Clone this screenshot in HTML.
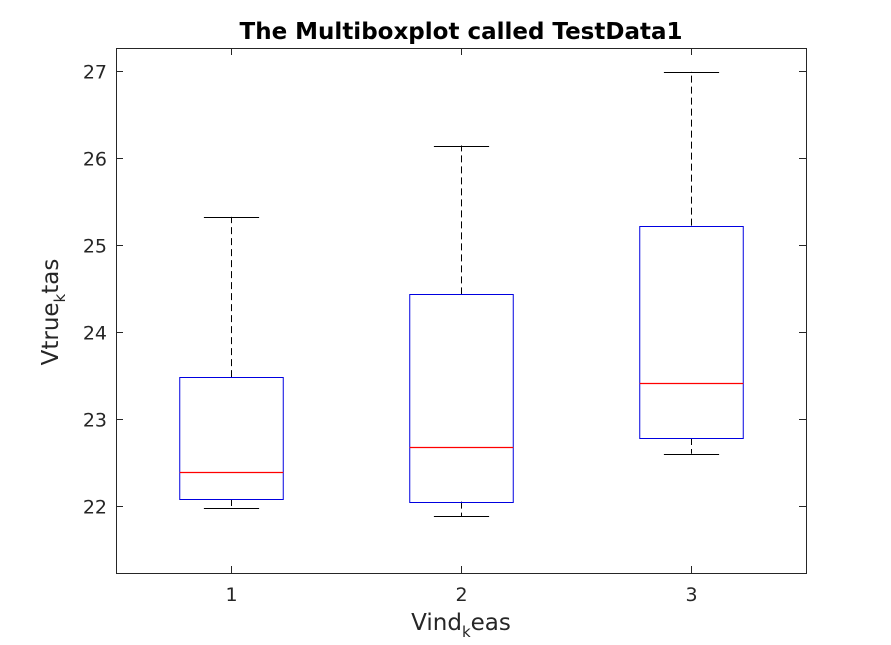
<!DOCTYPE html>
<html><head><meta charset="utf-8"><style>
html,body{margin:0;padding:0;background:#fff;}
svg{display:block;font-family:"DejaVu Sans","Liberation Sans",sans-serif;}
</style></head><body>
<svg id="chart" width="891" height="645">
<text x="461" y="39" text-anchor="middle" font-size="23" font-weight="bold" fill="#000">The Multiboxplot called TestData1</text>
<text x="461" y="630" text-anchor="middle" font-size="23" fill="#262626">Vind<tspan font-size="15" dy="7">k</tspan><tspan dy="-7">eas</tspan></text>
<text transform="translate(58,312) rotate(-90)" text-anchor="middle" font-size="23" fill="#262626">Vtrue<tspan font-size="15" dy="7">k</tspan><tspan dy="-7">tas</tspan></text>
</svg>
<script>
const categories = ["1","2","3"];
const whiskerLow = [21.98, 21.88, 22.60];
const q1 = [22.08, 22.05, 22.78];
const median = [22.39, 22.68, 23.41];
const q3 = [23.48, 24.43, 25.22];
const whiskerHigh = [25.32, 26.14, 26.99];
const yTicks = [22, 23, 24, 25, 26, 27];

const L=116,R=806,T=48,B=573;
const yMin=21.23,yMax=27.26,xMin=0.5,xMax=3.5;
const ys=v=>B-(v-yMin)/(yMax-yMin)*(B-T);
const xs=v=>L+(v-xMin)/(xMax-xMin)*(R-L);
const svg=document.getElementById('chart');
const NS='http://www.w3.org/2000/svg';
function mk(tag,attrs,parent){const e=document.createElementNS(NS,tag);for(const k in attrs)e.setAttribute(k,attrs[k]);(parent||svg).appendChild(e);return e;}

const frame=mk('rect',{x:L+0.5,y:T+0.5,width:R-L,height:B-T,fill:'none',stroke:'#262626','stroke-width':1});



yTicks.forEach(t=>{
  const y=Math.round(ys(t))+0.5;
  mk('line',{x1:L,x2:L+7,y1:y,y2:y,stroke:'#262626'});
  mk('line',{x1:R-7,x2:R,y1:y,y2:y,stroke:'#262626'});
  const tx=mk('text',{x:L-9,y:y+7,'text-anchor':'end','font-size':19,fill:'#262626'});
  tx.textContent=t;
  
  
});
categories.forEach((c,i)=>{
  const x=Math.round(xs(i+1))+0.5;
  mk('line',{x1:x,x2:x,y1:B,y2:B-7,stroke:'#262626'});
  mk('line',{x1:x,x2:x,y1:T,y2:T+7,stroke:'#262626'});
  const tx=mk('text',{x:x,y:B+28,'text-anchor':'middle','font-size':19,fill:'#262626'});
  tx.textContent=c;
  
  

  const g=mk('g',{});
  
  
  const bw=xs(i+1.225)-xs(i+1), cw=xs(i+1.12)-xs(i+1);
  mk('line',{x1:x,x2:x,y1:ys(q3[i]),y2:ys(whiskerHigh[i]),stroke:'#000','stroke-dasharray':'7,4'},g);
  mk('line',{x1:x,x2:x,y1:ys(q1[i]),y2:ys(whiskerLow[i]),stroke:'#000','stroke-dasharray':'7,4'},g);
  mk('line',{x1:x-cw,x2:x+cw,y1:Math.round(ys(whiskerHigh[i]))+0.5,y2:Math.round(ys(whiskerHigh[i]))+0.5,stroke:'#000'},g);
  mk('line',{x1:x-cw,x2:x+cw,y1:Math.round(ys(whiskerLow[i]))+0.5,y2:Math.round(ys(whiskerLow[i]))+0.5,stroke:'#000'},g);
  mk('rect',{x:x-bw,y:Math.round(ys(q3[i]))+0.5,width:2*bw,height:Math.round(ys(q1[i]))-Math.round(ys(q3[i])),fill:'none',stroke:'#0000e0'},g);
  mk('line',{x1:x-bw,x2:x+bw,y1:Math.round(ys(median[i]))+0.5,y2:Math.round(ys(median[i]))+0.5,stroke:'#ff0000','stroke-width':1.2},g);
});
</script>
</body></html>
